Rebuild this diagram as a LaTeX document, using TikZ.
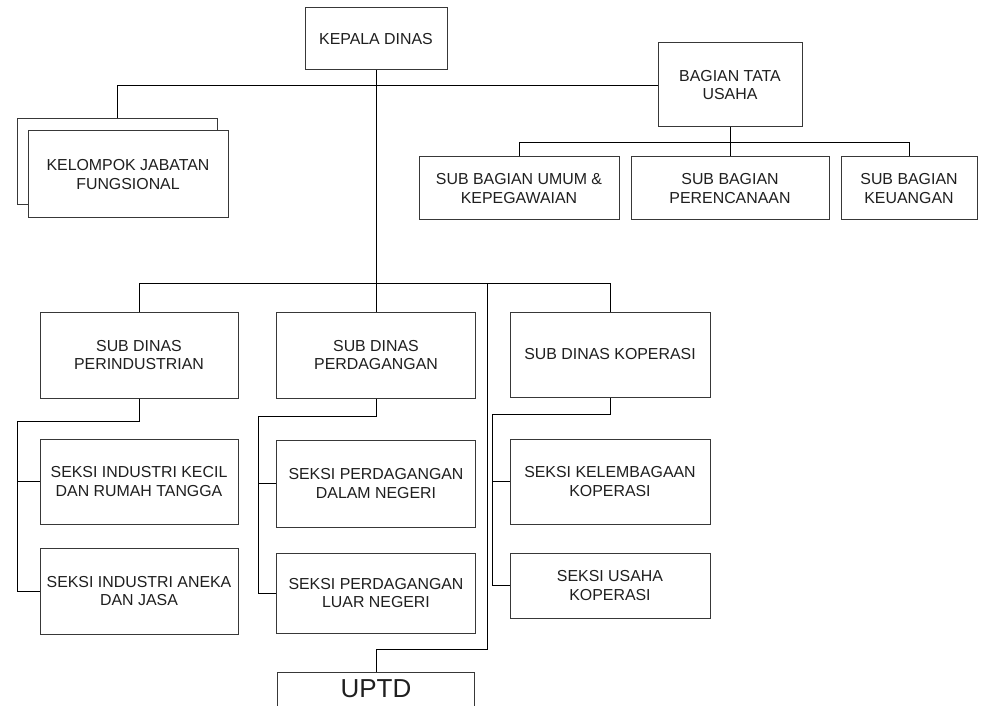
\documentclass[tikz,border=0pt]{standalone}
\usepackage{fontspec}
\setmainfont{Liberation Sans}
\begin{document}
\begin{tikzpicture}[x=1pt, y=-1pt,
  box/.style={draw=black!78, line width=1pt, fill=white, align=center, inner sep=0pt,
    text=black!88, font=\fontsize{15.9}{18.5}\selectfont},
  link/.style={draw=black, line width=0.9pt}]
\clip (0,0) rectangle (989,706);
\useasboundingbox (0,0) rectangle (989,706);

% top level
\node[box, minimum width=142, minimum height=62] (kd) at (376,39) {KEPALA DINAS};
\node[box, minimum width=144, minimum height=84] (btu) at (730,85) {BAGIAN TATA\\USAHA};

% functional group (stacked boxes)
\node[box, minimum width=200, minimum height=86] (kjfb) at (117,162) {};
\node[box, minimum width=200, minimum height=87] (kjf) at (128,174.5) {KELOMPOK JABATAN\\FUNGSIONAL};

% sub sections of the secretariat
\node[box, minimum width=200, minimum height=63] (sb1) at (519,188.5) {SUB BAGIAN UMUM \&\\KEPEGAWAIAN};
\node[box, minimum width=198, minimum height=63] (sb2) at (730,188.5) {SUB BAGIAN\\PERENCANAAN};
\node[box, minimum width=136, minimum height=63] (sb3) at (909,188.5) {SUB BAGIAN\\KEUANGAN};

% sub departments
\node[box, minimum width=198, minimum height=86] (sdi) at (139,355) {SUB DINAS\\PERINDUSTRIAN};
\node[box, minimum width=199, minimum height=86] (sdg) at (376,355) {SUB DINAS\\PERDAGANGAN};
\node[box, minimum width=200, minimum height=85] (sdk) at (610,354.5) {SUB DINAS KOPERASI};

% sections
\node[box, minimum width=198, minimum height=85] (s1) at (139,481.5) {SEKSI INDUSTRI KECIL\\DAN RUMAH TANGGA};
\node[box, minimum width=198, minimum height=86] (s2) at (139,591) {SEKSI INDUSTRI ANEKA\\DAN JASA};
\node[box, minimum width=199, minimum height=87] (s3) at (376,483.5) {SEKSI PERDAGANGAN\\DALAM NEGERI};
\node[box, minimum width=199, minimum height=80] (s4) at (376,593) {SEKSI PERDAGANGAN\\LUAR NEGERI};
\node[box, minimum width=200, minimum height=85] (s5) at (610,481.5) {SEKSI KELEMBAGAAN\\KOPERASI};
\node[box, minimum width=200, minimum height=65] (s6) at (610,585.5) {SEKSI USAHA\\KOPERASI};

% technical unit
\node[draw=black!78, line width=1pt, anchor=north, minimum width=197, inner xsep=0pt,
  inner ysep=8pt, text height=17pt, text depth=40pt, text=black!88,
  font=\fontsize{26}{30}\selectfont] (uptd) at (376,672) {UPTD};

% junction points
\coordinate (bar) at (376,283);
\coordinate (ua) at (487,283);
\coordinate (ub) at (487,649);
\coordinate (ti) at (17,421);
\coordinate (tg) at (258,416);
\coordinate (tk) at (492,414);

% connectors
\draw[link] (kd.south) -- (sdg.north);
\draw[link] (btu.west) -| (kjfb.north);
\draw[link] (btu.south) -- (sb2.north);
\draw[link] (sb1.north) -- ++(0,-14) -| (sb3.north);
\draw[link] (sdi.north) -- (sdi.north |- bar) -- (sdk.north |- bar) -- (sdk.north);
\draw[link] (ua) -- (ub) -| (uptd.north);

\draw[link] (sdi.south) |- (ti) |- (s2.west);
\draw[link] (ti |- s1.west) -- (s1.west);
\draw[link] (sdg.south) |- (tg) |- (s4.west);
\draw[link] (tg |- s3.west) -- (s3.west);
\draw[link] (sdk.south) |- (tk) |- (s6.west);
\draw[link] (tk |- s5.west) -- (s5.west);
\end{tikzpicture}
\end{document}
